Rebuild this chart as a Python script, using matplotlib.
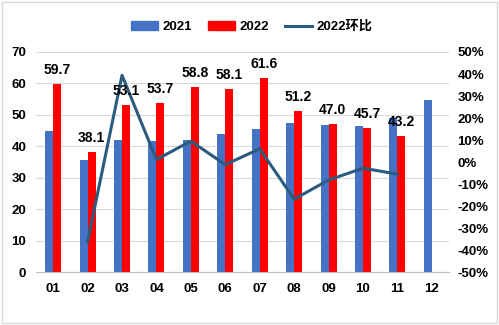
import matplotlib
matplotlib.use("Agg")
import matplotlib.pyplot as plt
import matplotlib.patches as mpatches
from matplotlib.lines import Line2D
from matplotlib.ticker import FuncFormatter
import numpy as np

plt.rcParams['font.family'] = ['Liberation Sans', 'Noto Sans CJK SC', 'DejaVu Sans']
plt.rcParams['font.weight'] = 'bold'
plt.rcParams['font.size'] = 9.5

months = ['01', '02', '03', '04', '05', '06', '07', '08', '09', '10', '11', '12']
sales_2021 = [44.8, 35.6, 42.0, 41.7, 42.0, 43.9, 45.5, 47.4, 46.8, 46.5, 49.1, 54.8]
sales_2022 = [59.7, 38.1, 53.1, 53.7, 58.8, 58.1, 61.6, 51.2, 47.0, 45.7, 43.2]
mom_months = months[1:11]
mom_2022 = [-36.2, 39.4, 1.1, 9.5, -1.2, 6.0, -16.9, -8.2, -2.8, -5.5]

blue = '#4472C4'
red = '#FF0000'
line_c = '#2B5B7F'

fig = plt.figure(figsize=(4.99, 3.25), dpi=100)
ax = fig.add_axes([0.0721, 0.163, 0.8277, 0.677])

x = np.arange(len(months))
w = 0.232
ax.bar(x - w / 2, sales_2021, width=w, color=blue, zorder=2)
x22 = np.arange(len(sales_2022))
ax.bar(x22 + w / 2, sales_2022, width=w, color=red, zorder=2)

ax.set_xlim(-0.5, 11.5)
ax.set_ylim(0, 70)
ax.set_yticks(range(0, 71, 10))
ax.set_xticks(x)
ax.set_xticklabels(months)
ax.grid(axis='y', color='#D9D9D9', linewidth=0.8, zorder=0)
ax.set_axisbelow(True)
for s in ['top', 'right', 'left']:
    ax.spines[s].set_visible(False)
ax.spines['bottom'].set_color('#BFBFBF')
ax.tick_params(axis='both', length=0)
ax.tick_params(axis='y', pad=7)
ax.tick_params(axis='x', pad=8)

ax2 = ax.twinx()
mx = [months.index(m) for m in mom_months]
ax2.plot(mx, mom_2022, color=line_c, linewidth=2.2, zorder=3)
ax2.set_ylim(-50, 50)
ax2.set_yticks(range(-50, 51, 10))
ax2.yaxis.set_major_formatter(FuncFormatter(lambda v, p: f'{int(round(v))}%'))
ax2.tick_params(axis='y', length=0, pad=6)
for s in ax2.spines.values():
    s.set_visible(False)

for xi, v in zip(x22, sales_2022):
    ax2.annotate(f'{v:.1f}', xy=(xi + w / 2, (v / 70) * 100 - 50), xytext=(0, 5),
                 textcoords='offset points', ha='center', va='bottom',
                 fontsize=10, fontweight='bold', zorder=5)

handles = [mpatches.Patch(color=blue), mpatches.Patch(color=red),
           Line2D([0], [0], color=line_c, linewidth=2.2)]
fig.legend(handles, ['2021', '2022', '2022环比'], loc='center',
           bbox_to_anchor=(0.505, 0.917), ncol=3, frameon=False,
           handlelength=2.0, handletextpad=0.4, columnspacing=1.2, fontsize=9.5)

fig.patches.append(mpatches.Rectangle((0.004, 0.006), 0.992, 0.988, transform=fig.transFigure,
                                      fill=False, edgecolor='#D9D9D9', linewidth=1))

fig.savefig('out.png', dpi=100)
